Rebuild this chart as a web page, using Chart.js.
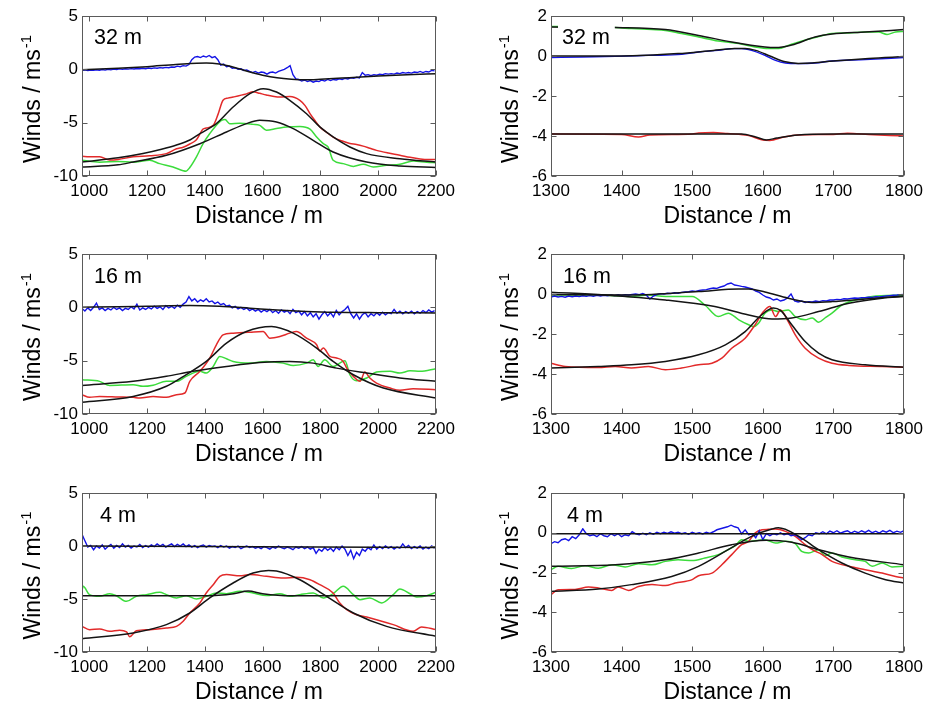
<!DOCTYPE html>
<html><head><meta charset="utf-8">
<script src="https://cdn.jsdelivr.net/npm/chart.js@4.4.0/dist/chart.umd.min.js"></script>
<style>
html,body{margin:0;padding:0;background:#fff;width:927px;height:705px;overflow:hidden;position:relative}
canvas{position:absolute}
</style></head><body>
<script>
// ---------- axis ticks and labels ----------
const xTicksLeft = [1000,1200,1400,1600,1800,2000,2200];
const xTicksRight = [1300,1400,1500,1600,1700,1800];
const yTicksLeft = [-10,-5,0,5];
const yTicksRight = [-6,-4,-2,0,2];
const heightLabels = ['32 m','16 m','4 m'];
const xTitle = 'Distance / m';
const yTitleMain = 'Winds / ms';
const yTitleSup = '-1';

// sampling grids for the noisy blue records
const gridStartLeft = 975, gridStepLeft = 10;
const gridStartRight = 1300, gridStepRight = 5;

// ---------- 32 m, left ----------
const blue32L = [-0.1,-0.05,-0.12,-0.06,-0.1,-0.04,-0.08,-0.02,-0.07,0.0,
 -0.05,0.02,-0.03,0.04,0.0,0.05,0.02,0.07,0.03,0.08,
 0.05,0.1,0.06,0.12,0.08,0.14,0.1,0.16,0.12,0.18,
 0.15,0.22,0.2,0.3,0.25,0.35,0.3,0.45,0.9,1.15,
 1.2,1.1,1.25,1.15,1.3,1.1,1.2,0.9,0.4,0.5,
 0.25,0.3,0.1,0.15,0.0,0.05,-0.1,-0.05,-0.2,-0.3,
 -0.2,-0.35,-0.25,-0.3,-0.45,-0.3,-0.25,-0.35,-0.2,-0.1,
 0.0,0.15,0.35,-0.5,-0.9,-0.95,-1.1,-1.0,-1.15,-1.05,
 -1.2,-1.1,-1.15,-1.0,-1.1,-0.95,-1.05,-0.95,-1.0,-0.9,
 -0.95,-0.85,-0.9,-0.8,-0.85,-0.75,-0.8,-0.3,-0.55,-0.5,
 -0.6,-0.5,-0.55,-0.45,-0.5,-0.4,-0.45,-0.4,-0.45,-0.35,
 -0.4,-0.3,-0.35,-0.3,-0.35,-0.25,-0.3,-0.2,-0.3,-0.2,
 -0.25,-0.1,-0.15];
const fitBlue32L_x = [975,1100,1200,1300,1405,1450,1500,1550,1600,1650,1700,1750,1800,1900,2000,2100,2200];
const fitBlue32L_y = [-0.05,0.1,0.25,0.45,0.6,0.5,0.2,-0.2,-0.55,-0.8,-0.93,-0.98,-0.93,-0.78,-0.62,-0.5,-0.42];
const red32L_x = [975,1000,1036,1071,1100,1152,1209,1267,1302,1325,1348,1371,1394,1405,1429,1446,1463,1480,1498,1544,1567,1590,1613,1640,1660,1694,1729,1747,1764,1781,1798,1821,1844,1873,1902,1925,1948,1971,1994,2035,2075,2110,2145,2175,2200];
const red32L_y = [-8.15,-8.2,-8.2,-8.5,-8.45,-8.2,-8.1,-7.9,-7.45,-7.3,-7.0,-6.6,-5.6,-5.5,-5.25,-4.2,-2.9,-2.7,-2.6,-2.3,-2.1,-2.25,-2.4,-2.55,-2.6,-2.55,-2.9,-3.4,-4.15,-4.8,-5.4,-5.9,-6.35,-6.7,-6.95,-7.05,-7.2,-7.4,-7.6,-7.85,-8.05,-8.25,-8.4,-8.45,-8.45];
const fitRed32L_x = [975,1100,1186,1250,1302,1350,1383,1440,1498,1556,1602,1648,1694,1752,1798,1844,1902,1960,2075,2200];
const fitRed32L_y = [-8.69,-8.3,-7.9,-7.5,-7.1,-6.6,-6.03,-5.09,-3.53,-2.28,-1.81,-2.13,-2.9,-4.16,-5.4,-6.34,-7.28,-7.9,-8.38,-8.69];
const green32L_x = [975,1036,1100,1152,1209,1244,1290,1325,1335,1348,1371,1394,1417,1435,1458,1470,1486,1521,1567,1590,1613,1648,1683,1729,1764,1787,1810,1827,1844,1879,1914,1948,1983,2029,2075,2121,2168,2200];
const green32L_y = [-8.53,-8.7,-8.65,-8.7,-8.53,-8.84,-9.16,-9.5,-9.55,-9.2,-8.2,-6.97,-6.03,-5.4,-4.78,-4.7,-5.1,-5.05,-5.16,-5.25,-5.7,-5.55,-5.4,-5.35,-5.6,-6.34,-6.97,-7.3,-8.53,-8.84,-9.1,-8.9,-9.16,-9.0,-8.9,-8.6,-8.7,-8.75];
const fitGreen32L_x = [975,1100,1152,1267,1383,1475,1544,1590,1648,1706,1775,1844,1960,2075,2200];
const fitGreen32L_y = [-9.16,-8.95,-8.69,-8.06,-6.97,-5.875,-5.09,-4.78,-4.94,-5.56,-6.66,-7.75,-8.69,-9.06,-9.2];

// ---------- 32 m, right ----------
const blue32R_x = [1300,1343,1391,1438,1485,1509,1537,1556,1570,1584,1603,1618,1632,1651,1674,1698,1745,1800];
const blue32R_y = [-0.08,-0.05,-0.02,0.03,0.08,0.2,0.28,0.37,0.37,0.28,0.03,-0.22,-0.35,-0.38,-0.35,-0.25,-0.18,-0.08];
const fitBlue32R_x = [1300,1400,1480,1530,1560,1575,1590,1610,1630,1650,1670,1700,1750,1800];
const fitBlue32R_y = [0.0,0.0,0.12,0.28,0.37,0.38,0.28,0.0,-0.28,-0.37,-0.35,-0.25,-0.12,-0.03];
const green32R_x = [1300,1310,1391,1414,1443,1462,1485,1509,1537,1566,1589,1608,1622,1636,1651,1674,1698,1722,1745,1764,1776,1788,1800];
const green32R_y = [1.48,1.47,1.42,1.37,1.32,1.28,1.12,0.95,0.75,0.62,0.45,0.37,0.37,0.53,0.7,0.92,1.12,1.15,1.2,1.2,1.08,1.2,1.23];
const fitGreen32R_x = [1300,1391,1462,1509,1556,1603,1618,1641,1674,1698,1745,1800];
const fitGreen32R_y = [1.45,1.42,1.32,1.03,0.7,0.45,0.42,0.55,0.95,1.1,1.2,1.32];
const red32R_x = [1300,1400,1424,1440,1500,1509,1530,1550,1580,1600,1610,1630,1650,1700,1720,1750,1780,1800];
const red32R_y = [-3.9,-3.92,-4.05,-3.95,-3.9,-3.85,-3.82,-3.88,-3.98,-4.2,-4.22,-4.05,-3.95,-3.92,-3.86,-3.92,-3.97,-4.0];
const fitRed32R_x = [1300,1570,1590,1605,1620,1650,1700,1800];
const fitRed32R_y = [-3.9,-3.9,-4.05,-4.2,-4.1,-3.95,-3.9,-3.9];

// ---------- 16 m, left ----------
const blue16L = [-0.1,-0.35,-0.05,-0.3,0.0,0.4,-0.2,-0.05,-0.3,-0.1,
 -0.25,0.0,-0.2,-0.05,-0.3,-0.1,-0.2,0.05,-0.15,0.3,
 -0.25,-0.05,-0.2,0.0,-0.15,0.1,-0.1,0.05,-0.2,0.15,
 -0.05,0.1,-0.1,0.2,0.0,0.3,0.5,1.0,0.6,0.8,
 0.5,0.7,0.55,0.8,0.5,0.6,0.35,0.5,0.25,0.35,
 0.1,0.2,-0.05,0.1,-0.15,0.0,-0.2,-0.05,-0.3,-0.15,
 -0.35,-0.2,-0.45,-0.25,-0.4,-0.2,-0.5,-0.3,-0.55,-0.25,
 -0.45,-0.3,-0.6,-0.2,-0.5,-0.35,-0.7,-0.4,-0.8,-0.5,
 -0.9,-0.6,-1.1,-0.7,-0.4,-0.8,-0.5,-0.9,-0.3,-0.7,
 -0.4,-0.2,0.1,-0.6,-1.0,-0.6,-1.1,-0.7,-0.5,-0.9,
 -0.6,-0.8,-0.5,-0.75,-0.45,-0.7,-0.5,-0.6,-0.2,-0.55,
 -0.35,-0.6,-0.4,-0.55,-0.35,-0.6,-0.4,-0.55,-0.3,-0.5,
 -0.25,-0.45,-0.3];
const fitBlue16L_x = [975,1100,1200,1348,1450,1556,1650,1750,1844,2000,2200];
const fitBlue16L_y = [0.01,0.05,0.1,0.17,0.1,-0.08,-0.25,-0.38,-0.46,-0.5,-0.52];
const red16L_x = [975,1001,1036,1100,1152,1175,1221,1267,1302,1331,1348,1383,1417,1440,1463,1498,1556,1602,1625,1660,1694,1717,1752,1787,1798,1810,1833,1856,1879,1891,1914,1937,1954,1971,1994,2041,2075,2121,2200];
const red16L_y = [-8.19,-8.44,-8.35,-8.4,-8.44,-8.5,-8.35,-8.44,-8.19,-8.03,-6.94,-6.0,-4.76,-3.51,-2.58,-2.42,-2.33,-2.27,-2.89,-2.73,-2.42,-2.27,-2.89,-3.51,-4.1,-3.82,-4.6,-4.75,-5.07,-5.7,-6.47,-6.94,-6.07,-6.63,-7.1,-7.57,-7.78,-7.63,-7.72];
const fitRed16L_x = [975,1152,1267,1336,1405,1475,1544,1631,1706,1787,1844,1914,2018,2200];
const fitRed16L_y = [-8.9,-8.35,-7.4,-6.3,-5.07,-3.36,-2.27,-1.8,-2.42,-3.82,-5.07,-6.32,-7.57,-8.5];
const green16L_x = [975,1036,1071,1152,1186,1221,1267,1302,1336,1383,1405,1429,1452,1475,1498,1556,1613,1671,1706,1752,1775,1792,1815,1844,1885,1902,1925,1960,1994,2041,2075,2110,2145,2200];
const green16L_y = [-6.79,-6.94,-7.32,-7.25,-7.41,-7.3,-6.94,-6.94,-6.47,-6.0,-6.16,-5.54,-4.6,-4.82,-5.07,-5.23,-5.07,-5.23,-5.45,-5.23,-4.92,-5.54,-4.92,-5.54,-5.0,-6.32,-6.88,-6.63,-6.07,-6.0,-6.16,-5.95,-6.0,-5.76];
const fitGreen16L_x = [975,1152,1267,1359,1475,1590,1694,1775,1856,1960,2075,2200];
const fitGreen16L_y = [-7.32,-6.94,-6.47,-6.0,-5.54,-5.17,-5.07,-5.23,-5.7,-6.16,-6.63,-6.94];

// ---------- 16 m, right ----------
const blue16R = [-0.15,-0.1,-0.15,-0.12,-0.16,-0.1,-0.14,-0.1,-0.13,-0.09,
 -0.12,-0.08,-0.11,-0.07,-0.1,-0.06,-0.09,-0.05,-0.08,-0.04,
 -0.07,-0.03,-0.05,-0.02,0.0,-0.03,0.02,-0.05,-0.25,-0.1,
 -0.03,0.02,0.0,0.04,0.02,0.06,0.04,0.08,0.1,0.12,
 0.15,0.13,0.18,0.2,0.22,0.26,0.3,0.28,0.35,0.4,
 0.5,0.55,0.45,0.42,0.38,0.35,0.3,0.25,0.15,0.08,
 -0.05,-0.15,-0.2,-0.3,-0.25,-0.35,-0.3,-0.2,0.0,-0.35,
 -0.4,-0.35,-0.42,-0.38,-0.4,-0.35,-0.38,-0.33,-0.35,-0.3,
 -0.3,-0.27,-0.28,-0.24,-0.25,-0.22,-0.2,-0.21,-0.18,-0.19,
 -0.16,-0.17,-0.14,-0.15,-0.12,-0.1,-0.08,-0.06,-0.05,-0.03,
 -0.02];
const fitBlue16R_x = [1300,1414,1509,1566,1580,1603,1636,1670,1698,1745,1800];
const fitBlue16R_y = [-0.02,-0.05,0.12,0.25,0.25,0.1,-0.21,-0.42,-0.38,-0.25,-0.1];
const green16R_x = [1300,1367,1414,1438,1462,1500,1518,1537,1551,1566,1580,1587,1594,1603,1613,1622,1636,1646,1660,1670,1679,1688,1698,1712,1731,1755,1800];
const green16R_y = [-0.05,-0.05,-0.13,-0.05,-0.13,-0.13,-0.55,-1.13,-0.96,-1.29,-1.54,-1.63,-1.46,-0.96,-0.8,-0.88,-0.8,-1.13,-1.29,-1.2,-1.41,-1.2,-0.96,-0.55,-0.3,-0.13,-0.05];
const fitGreen16R_x = [1300,1376,1462,1532,1580,1613,1641,1679,1722,1769,1800];
const fitGreen16R_y = [0.09,-0.05,-0.3,-0.63,-1.05,-1.25,-1.2,-0.88,-0.46,-0.21,-0.13];
const red16R_x = [1300,1320,1367,1391,1414,1438,1462,1485,1509,1528,1542,1556,1575,1589,1601,1610,1618,1625,1636,1646,1660,1679,1698,1722,1769,1800];
const red16R_y = [-3.46,-3.62,-3.67,-3.62,-3.7,-3.62,-3.79,-3.7,-3.54,-3.46,-3.21,-2.71,-2.21,-1.54,-0.88,-0.63,-1.13,-0.8,-1.38,-2.04,-2.71,-3.21,-3.46,-3.57,-3.62,-3.66];
const fitRed16R_x = [1300,1367,1414,1462,1509,1547,1575,1598,1615,1625,1641,1660,1679,1698,1745,1800];
const fitRed16R_y = [-3.7,-3.62,-3.54,-3.37,-3.04,-2.54,-1.88,-1.05,-0.7,-0.82,-1.54,-2.38,-2.96,-3.29,-3.54,-3.66];

// ---------- 4 m, left ----------
const blue4L = [1.1,0.5,-0.1,0.05,-0.35,0.0,-0.2,0.1,-0.3,-0.05,
 0.15,-0.2,0.05,-0.15,0.2,-0.1,0.05,-0.2,0.0,-0.1,
 0.15,-0.15,0.05,-0.1,0.1,-0.05,0.2,0.0,0.15,-0.1,
 0.05,0.2,-0.05,0.15,0.0,0.2,-0.05,0.1,-0.1,0.05,
 -0.15,0.0,0.1,-0.1,0.05,-0.05,0.0,-0.15,0.05,-0.1,
 0.0,-0.2,-0.05,-0.15,0.0,-0.25,-0.1,0.0,-0.15,-0.05,
 -0.2,-0.1,-0.25,-0.05,-0.15,-0.3,-0.1,-0.2,0.0,-0.15,
 -0.25,-0.1,-0.2,-0.35,-0.1,-0.2,-0.05,-0.25,-0.1,-0.3,
 -0.15,-0.7,-0.3,-0.5,-0.15,-0.4,-0.2,-0.5,-0.1,-0.35,
 0.0,-0.3,-0.9,-0.4,-1.2,-0.6,-0.9,-0.3,-0.5,-0.15,
 -0.35,0.1,-0.3,-0.05,-0.25,0.0,-0.2,-0.05,-0.3,-0.1,
 -0.2,0.2,-0.15,0.05,-0.25,-0.05,-0.2,0.0,-0.3,-0.1,
 -0.25,0.0,-0.2];
const fitBlue4L_x = [975,2200];
const fitBlue4L_y = [0.0,-0.15];
const red4L_x = [975,1001,1036,1071,1105,1129,1140,1163,1209,1267,1302,1325,1348,1383,1405,1429,1452,1475,1521,1556,1613,1671,1717,1764,1798,1844,1867,1891,1925,1960,1994,2052,2121,2150,2200];
const red4L_y = [-7.58,-7.89,-7.83,-8.05,-7.95,-8.11,-8.55,-8.0,-7.89,-7.74,-7.58,-7.1,-6.32,-5.38,-4.43,-3.65,-2.86,-2.7,-2.8,-2.7,-2.86,-3.02,-2.95,-3.18,-3.65,-4.43,-5.38,-6.0,-6.48,-6.7,-6.95,-7.42,-8.05,-7.64,-7.89];
const fitRed4L_x = [975,1152,1267,1348,1417,1498,1567,1620,1648,1729,1821,1914,2029,2200];
const fitRed4L_y = [-8.74,-8.2,-7.42,-6.32,-4.9,-3.49,-2.55,-2.3,-2.35,-3.18,-4.75,-6.32,-7.58,-8.52];
const green4L_x = [975,979,1001,1036,1071,1094,1129,1163,1198,1244,1267,1302,1336,1371,1405,1440,1475,1521,1567,1613,1660,1694,1729,1775,1810,1844,1879,1914,1937,1971,2012,2052,2075,2110,2133,2168,2200];
const green4L_y = [-4.2,-3.8,-4.59,-4.75,-4.5,-4.69,-5.22,-4.75,-4.59,-4.37,-4.59,-4.9,-4.69,-5.0,-4.75,-4.43,-4.5,-4.28,-4.43,-4.68,-4.5,-4.75,-4.59,-4.43,-4.9,-4.5,-3.8,-4.59,-5.06,-4.9,-5.38,-4.59,-4.06,-4.5,-4.81,-4.69,-4.37];
const fitGreen4L_x = [975,1400,1500,1550,1600,1700,2200];
const fitGreen4L_y = [-4.69,-4.69,-4.5,-4.25,-4.5,-4.69,-4.69];

// ---------- 4 m, right ----------
const blue4R = [-0.55,-0.45,-0.5,-0.35,-0.3,-0.4,-0.2,-0.3,-0.1,0.2,
 -0.05,-0.15,-0.1,-0.2,-0.05,-0.15,-0.2,-0.05,-0.15,-0.05,
 -0.2,-0.1,-0.15,0.05,-0.05,-0.1,-0.02,-0.1,0.0,-0.08,
 0.02,-0.05,0.03,-0.03,0.05,-0.02,0.03,-0.05,0.0,-0.08,
 0.02,-0.05,0.0,-0.06,0.02,-0.03,0.05,0.15,0.2,0.25,
 0.3,0.38,0.3,0.25,-0.05,0.15,-0.1,-0.05,-0.25,0.1,
 -0.35,-0.05,-0.15,-0.05,-0.1,0.0,-0.1,-0.05,-0.15,-0.1,
 -0.2,-0.35,-0.25,-0.1,-0.15,0.0,-0.05,0.05,-0.05,0.08,
 0.0,0.1,-0.02,0.05,0.1,-0.02,0.08,0.0,0.1,0.02,
 0.12,0.0,0.08,-0.02,0.1,0.03,0.12,0.0,0.08,0.02,
 0.1];
const fitBlue4R_x = [1300,1800];
const fitBlue4R_y = [-0.05,-0.05];
const green4R_x = [1300,1310,1329,1348,1367,1386,1405,1424,1443,1462,1480,1500,1518,1537,1551,1561,1570,1580,1594,1603,1618,1632,1646,1655,1665,1679,1688,1698,1712,1731,1745,1755,1769,1783,1800];
const green4R_y = [-1.86,-1.69,-1.8,-1.66,-1.78,-1.61,-1.72,-1.56,-1.61,-1.44,-1.36,-1.4,-1.27,-1.1,-0.85,-0.65,-0.35,-0.43,-0.38,-0.35,-0.52,-0.43,-0.55,-0.94,-1.02,-0.85,-1.15,-1.02,-1.22,-1.36,-1.44,-1.69,-1.52,-1.72,-1.69];
const fitGreen4R_x = [1300,1391,1462,1509,1556,1605,1641,1679,1722,1800];
const fitGreen4R_y = [-1.69,-1.61,-1.36,-1.02,-0.6,-0.38,-0.48,-0.85,-1.22,-1.61];
const red4R_x = [1300,1310,1334,1353,1367,1386,1395,1410,1424,1443,1462,1476,1500,1509,1528,1542,1556,1570,1580,1589,1599,1608,1618,1632,1646,1660,1670,1684,1698,1722,1745,1769,1788,1800];
const red4R_y = [-3.12,-2.87,-2.85,-2.73,-2.78,-2.9,-2.73,-2.9,-2.7,-2.61,-2.66,-2.53,-2.36,-2.16,-2.03,-1.61,-1.1,-0.6,-0.43,-0.01,0.15,0.17,0.19,0.07,-0.18,-0.6,-0.85,-1.1,-1.44,-1.69,-1.86,-2.03,-2.2,-2.28];
const fitRed4R_x = [1300,1367,1414,1471,1509,1551,1584,1613,1622,1651,1679,1712,1745,1774,1800];
const fitRed4R_y = [-2.95,-2.83,-2.61,-2.2,-1.69,-0.85,-0.18,0.19,0.25,-0.18,-0.85,-1.52,-2.03,-2.36,-2.53];

// ---------- helpers ----------
const FONT = '"Liberation Sans", Arial, Helvetica, sans-serif';
Chart.defaults.font.family = FONT;
Chart.defaults.color = '#000';
const COL = {blue:'#1414e6', green:'#3cdc3c', red:'#e22a2a', fit:'#141414'};

function pairs(xs, ys){ return xs.map((x,i)=>({x:x, y:ys[i]})); }
function gridded(start, step, ys){ return ys.map((y,i)=>({x:start+i*step, y:y})); }
function smooth(data, color, w){ return {data:data, borderColor:color, borderWidth:w, pointRadius:0, fill:false, cubicInterpolationMode:'monotone'}; }
function raw(data, color, w){ return {data:data, borderColor:color, borderWidth:w, pointRadius:0, fill:false, tension:0}; }

const FW = 1.5, CW = 1.5, BW = 1.4;
const panels = [
 {area:[82,16,436,176], xr:[975,2200], yr:[-10,5], xt:xTicksLeft, yt:yTicksLeft, label:heightLabels[0], ldx:12, ldy:28, ytGap:42,
  sets:[smooth(pairs(fitBlue32L_x,fitBlue32L_y),COL.fit,FW), smooth(pairs(fitRed32L_x,fitRed32L_y),COL.fit,FW), smooth(pairs(fitGreen32L_x,fitGreen32L_y),COL.fit,FW),
        raw(gridded(gridStartLeft,gridStepLeft,blue32L),COL.blue,BW), smooth(pairs(red32L_x,red32L_y),COL.red,CW), smooth(pairs(green32L_x,green32L_y),COL.green,CW)]},
 {area:[551,16,904,176], xr:[1300,1800], yr:[-6,2], xt:xTicksRight, yt:yTicksRight, label:heightLabels[0], ldx:11, ldy:28, ytGap:33,
  sets:[smooth(pairs(fitBlue32R_x,fitBlue32R_y),COL.fit,FW), smooth(pairs(fitRed32R_x,fitRed32R_y),COL.fit,FW), smooth(pairs(fitGreen32R_x,fitGreen32R_y),COL.fit,FW),
        smooth(pairs(blue32R_x,blue32R_y),COL.blue,BW), smooth(pairs(red32R_x,red32R_y),COL.red,CW), smooth(pairs(green32R_x,green32R_y),COL.green,CW)]},
 {area:[82,254,436,414], xr:[975,2200], yr:[-10,5], xt:xTicksLeft, yt:yTicksLeft, label:heightLabels[1], ldx:12, ldy:29, ytGap:42,
  sets:[smooth(pairs(fitBlue16L_x,fitBlue16L_y),COL.fit,FW), smooth(pairs(fitRed16L_x,fitRed16L_y),COL.fit,FW), smooth(pairs(fitGreen16L_x,fitGreen16L_y),COL.fit,FW),
        raw(gridded(gridStartLeft,gridStepLeft,blue16L),COL.blue,BW), smooth(pairs(red16L_x,red16L_y),COL.red,CW), smooth(pairs(green16L_x,green16L_y),COL.green,CW)]},
 {area:[551,254,904,414], xr:[1300,1800], yr:[-6,2], xt:xTicksRight, yt:yTicksRight, label:heightLabels[1], ldx:12, ldy:29, ytGap:33,
  sets:[smooth(pairs(fitBlue16R_x,fitBlue16R_y),COL.fit,FW), smooth(pairs(fitRed16R_x,fitRed16R_y),COL.fit,FW), smooth(pairs(fitGreen16R_x,fitGreen16R_y),COL.fit,FW),
        raw(gridded(gridStartRight,gridStepRight,blue16R),COL.blue,BW), smooth(pairs(red16R_x,red16R_y),COL.red,CW), smooth(pairs(green16R_x,green16R_y),COL.green,CW)]},
 {area:[82,493,436,652], xr:[975,2200], yr:[-10,5], xt:xTicksLeft, yt:yTicksLeft, label:heightLabels[2], ldx:18, ldy:29, ytGap:42,
  sets:[smooth(pairs(fitBlue4L_x,fitBlue4L_y),COL.fit,FW), smooth(pairs(fitRed4L_x,fitRed4L_y),COL.fit,FW), smooth(pairs(fitGreen4L_x,fitGreen4L_y),COL.fit,FW),
        raw(gridded(gridStartLeft,gridStepLeft,blue4L),COL.blue,BW), smooth(pairs(red4L_x,red4L_y),COL.red,CW), smooth(pairs(green4L_x,green4L_y),COL.green,CW)]},
 {area:[551,493,904,652], xr:[1300,1800], yr:[-6,2], xt:xTicksRight, yt:yTicksRight, label:heightLabels[2], ldx:16, ldy:29, ytGap:33,
  sets:[smooth(pairs(fitBlue4R_x,fitBlue4R_y),COL.fit,FW), smooth(pairs(fitRed4R_x,fitRed4R_y),COL.fit,FW), smooth(pairs(fitGreen4R_x,fitGreen4R_y),COL.fit,FW),
        raw(gridded(gridStartRight,gridStepRight,blue4R),COL.blue,BW), smooth(pairs(red4R_x,red4R_y),COL.red,CW), smooth(pairs(green4R_x,green4R_y),COL.green,CW)]}
];

const PAD_L = 90, PAD_T = 20, PAD_R = 25, PAD_B = 65;

function decor(p){
  return {
    id:'decor',
    afterDatasetsDraw(chart){
      const ctx = chart.ctx, a = chart.chartArea;
      ctx.save();
      ctx.font = '21.5px ' + FONT;
      const tw = ctx.measureText(p.label).width;
      const tx = a.left + p.ldx, ty = a.top + p.ldy;
      ctx.fillStyle = '#fff';
      ctx.fillRect(tx - 4, ty - 22, tw + 9, 28);
      ctx.fillStyle = '#000';
      ctx.textBaseline = 'alphabetic';
      ctx.textAlign = 'left';
      ctx.fillText(p.label, tx, ty);
      ctx.restore();
    },
    afterDraw(chart){
      const ctx = chart.ctx, a = chart.chartArea;
      const xs = chart.scales.x, ys = chart.scales.y;
      ctx.save();
      ctx.strokeStyle = '#5a5a5a';
      ctx.lineWidth = 1;
      const L = Math.round(a.left)+0.5, R = Math.round(a.right)-0.5, T = Math.round(a.top)+0.5, B = Math.round(a.bottom)-0.5;
      ctx.strokeRect(L, T, R-L, B-T);
      ctx.beginPath();
      p.xt.forEach(v=>{
        const px = Math.round(xs.getPixelForValue(v))+0.5;
        ctx.moveTo(px, B); ctx.lineTo(px, B-5);
        ctx.moveTo(px, T); ctx.lineTo(px, T+5);
      });
      p.yt.forEach(v=>{
        const py = Math.round(ys.getPixelForValue(v))+0.5;
        ctx.moveTo(L, py); ctx.lineTo(L+5, py);
        ctx.moveTo(R, py); ctx.lineTo(R-5, py);
      });
      ctx.stroke();
      // y axis title with superscript
      const cx = a.left - p.ytGap, cy = (a.top + a.bottom)/2 + 3;
      ctx.translate(cx, cy);
      ctx.rotate(-Math.PI/2);
      ctx.fillStyle = '#000';
      ctx.textBaseline = 'alphabetic';
      ctx.textAlign = 'left';
      ctx.font = '23px ' + FONT;
      const w1 = ctx.measureText(yTitleMain).width;
      ctx.font = '15px ' + FONT;
      const w2 = ctx.measureText(yTitleSup).width;
      const start = -(w1 + w2 + 1)/2;
      ctx.font = '23px ' + FONT;
      ctx.fillText(yTitleMain, start, 0);
      ctx.font = '15px ' + FONT;
      ctx.fillText(yTitleSup, start + w1 + 1, -9);
      ctx.restore();
    }
  };
}

panels.forEach(p=>{
  const cv = document.createElement('canvas');
  const W = p.area[2]-p.area[0], H = p.area[3]-p.area[1];
  cv.width = W + PAD_L + PAD_R; cv.height = H + PAD_T + PAD_B;
  cv.style.left = (p.area[0]-PAD_L)+'px'; cv.style.top = (p.area[1]-PAD_T)+'px';
  cv.style.width = cv.width+'px'; cv.style.height = cv.height+'px';
  document.body.appendChild(cv);
  new Chart(cv, {
    type:'line',
    data:{datasets:p.sets},
    options:{
      responsive:false, animation:false, devicePixelRatio:1,
      layout:{padding:{left:0, top:PAD_T, right:PAD_R, bottom:0}},
      plugins:{legend:{display:false}, tooltip:{enabled:false}},
      elements:{point:{radius:0}},
      scales:{
        x:{type:'linear', min:p.xr[0], max:p.xr[1],
           afterBuildTicks:s=>{ s.ticks = p.xt.map(v=>({value:v})); },
           afterFit:s=>{ s.height = PAD_B; },
           grid:{display:false, drawTicks:false}, border:{display:false},
           ticks:{font:{size:17}, padding:5, maxRotation:0, autoSkip:false, color:'#000', callback:v=>String(v)},
           title:{display:true, text:xTitle, color:'#000', font:{size:23, lineHeight:1.2}, padding:{top:0, bottom:11}}},
        y:{type:'linear', min:p.yr[0], max:p.yr[1],
           afterBuildTicks:s=>{ s.ticks = p.yt.map(v=>({value:v})); },
           afterFit:s=>{ s.width = PAD_L; },
           grid:{display:false, drawTicks:false}, border:{display:false},
           ticks:{font:{size:17}, padding:4, color:'#000', autoSkip:false, callback:v=>String(v)}}
      }
    },
    plugins:[decor(p)]
  });
});
</script>
</body></html>
